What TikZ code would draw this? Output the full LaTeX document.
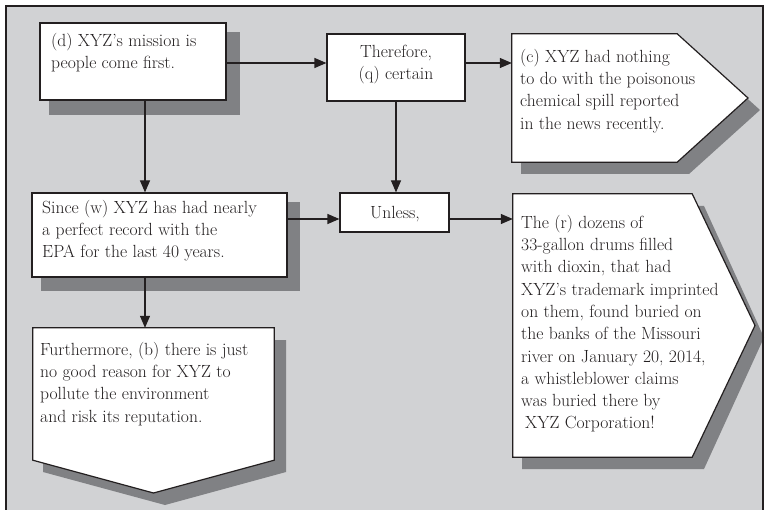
\documentclass[tikz,border=0pt]{standalone}
\usetikzlibrary{arrows.meta}
\definecolor{bgc}{RGB}{209,210,212}
\definecolor{shc}{RGB}{128,129,132}
\definecolor{inkc}{RGB}{35,31,32}
\begin{document}
\begin{tikzpicture}[x=1pt,y=-1pt,
  boxshape/.style={draw=inkc, line width=1.2pt, fill=white, inner sep=0pt},
  anchorbox/.style={inner sep=0pt, draw=none},
  txt/.style={inner sep=0pt, text=inkc, font=\fontsize{17.6}{22.3}\selectfont},
  arr/.style={draw=inkc, line width=1.2pt, -{Triangle[length=12pt,width=10pt]}},
  shadowfill/.style={fill=shc, draw=none}]
\useasboundingbox (0,0) rectangle (767,510);
\clip (0,0) rectangle (767,510);
% background
\fill[bgc] (6,6) rectangle (763,520);
% shadows
\fill[shadowfill] (49,32) rectangle (240,115);
\fill[shadowfill] (41,202) rectangle (300,291);
\fill[shadowfill] (521,46) -- (689,46) -- (760,110) -- (689,174) -- (521,174) -- cycle;
\fill[shadowfill] (522,206) -- (704,206) -- (764,337.5) -- (704,469) -- (522,469) -- cycle;
\fill[shadowfill] (43,340) -- (286,340) -- (286,472) -- (165,505) -- (43,472) -- cycle;
% rectangular boxes
\node[boxshape, minimum width=186pt, minimum height=77pt] (d) at (133,61.5) {};
\node[boxshape, minimum width=138pt, minimum height=67pt] (q) at (396,67.5) {};
\node[boxshape, minimum width=255pt, minimum height=84pt] (w) at (159.5,235) {};
\node[boxshape, minimum width=109pt, minimum height=39pt] (u) at (394.5,212.5) {};
% pentagon boxes
\node[anchorbox, minimum width=165pt, minimum height=128pt] (c) at (594.5,98) {};
\coordinate (ctip) at (748,98);
\draw[boxshape] (c.north west) -- (c.north east) -- (ctip) -- (c.south east) -- (c.south west) -- cycle;
\node[anchorbox, minimum width=179pt, minimum height=263pt] (r) at (602.5,325.5) {};
\coordinate (rtip) at (755,325.5);
\draw[boxshape] (r.north west) -- (r.north east) -- (rtip) -- (r.south east) -- (r.south west) -- cycle;
\node[anchorbox, minimum width=241pt, minimum height=132pt] (f) at (153.5,394) {};
\coordinate (ftip) at (153.5,493);
\draw[boxshape] (f.north west) -- (f.north east) -- (f.south east) -- (ftip) -- (f.south west) -- cycle;
% texts
\node[txt, anchor=north west, align=left] (dtxt) at (51,30.39)
  {\strut(d) XYZ's mission is\\people come first.};
\node[txt, anchor=north, align=center] (qtxt) at (396,41.39)
  {\strut Therefore,\\(q) certain};
\node[txt, anchor=north west, align=left] (ctxt) at (520,46.39)
  {\strut(c) XYZ had nothing\\to do with the poisonous\\chemical spill reported\\in the news recently.};
\node[txt, anchor=north west, align=left] (wtxt) at (42,197.39)
  {\strut Since (w) XYZ has had nearly\\a perfect record with the\\EPA for the last 40 years.};
\node[txt, anchor=base] (utxt) at (395,219) {Unless,};
\node[txt, anchor=north west, align=left] (ftxt) at (40,339.39)
  {\strut Furthermore, (b) there is just\\no good reason for XYZ to\\pollute the environment\\and risk its reputation.};
\node[txt, anchor=north west, align=left] (rtxt) at (521,212.39)
  {\strut The (r) dozens of\\33-gallon drums filled\\with dioxin, that had\\XYZ's trademark imprinted\\on them, found buried on\\the banks of the Missouri\\river on January 20, 2014,\\a whistleblower claims\\was buried there by\\\hspace*{4pt}XYZ Corporation!};
% connectors
\coordinate (rowA) at (0,63);
\coordinate (rowB) at (0,219);
\coordinate (colA) at (145,0);
\draw[arr] (d.east |- rowA) -- (q.west |- rowA);
\draw[arr] (q.east |- rowA) -- (c.west |- rowA);
\draw[arr] (d.south -| colA) -- (w.north -| colA);
\draw[arr] (w.south -| colA) -- (f.north -| colA);
\draw[arr] (q.south) -- (q.south |- u.north);
\draw[arr] (w.east |- rowB) -- (u.west |- rowB);
\draw[arr] (u.east |- rowB) -- (r.west |- rowB);
% frame
\draw[inkc, line width=1.2pt] (6,6) rectangle (763,520);
\end{tikzpicture}
\end{document}
